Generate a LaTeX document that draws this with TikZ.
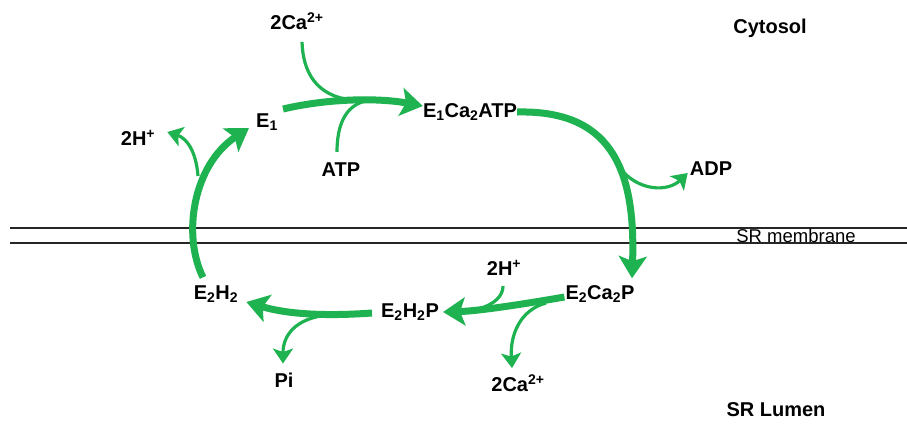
\documentclass[tikz,border=0pt]{standalone}
\usepackage{fontspec}
\setmainfont{Liberation Sans}
\usetikzlibrary{arrows.meta,calc}
\definecolor{pgreen}{RGB}{30,178,80}
\begin{document}
\begin{tikzpicture}[x=1pt,y=-1pt,
  lbl/.style={inner sep=0pt,font=\fontsize{20}{22}\selectfont\bfseries},
  big/.style={inner sep=0pt,font=\fontsize{20}{24}\selectfont\bfseries},
  mainarr/.style={draw=pgreen,line width=7pt,-{Stealth[length=22pt,width=28pt,inset=5pt]}},
  thinarr/.style={draw=pgreen,line width=3.2pt,-{Stealth[length=15pt,width=20pt,inset=3.5pt]}},
  thinline/.style={draw=pgreen,line width=3.2pt},
  memline/.style={draw=black!85,line width=2pt}]
\path[use as bounding box] (0,0) rectangle (907,424);
\fill[white] (0,0) rectangle (907,424);
% membrane
\coordinate (mL1) at (10,228); \coordinate (mR1) at (907,228);
\coordinate (mL2) at (10,243); \coordinate (mR2) at (907,243);
\draw[memline] (mL1) -- (mR1);
\draw[memline] (mL2) -- (mR2);
\node[inner sep=0pt,font=\fontsize{18.5}{20}\selectfont] (memb) at (796,236) {SR membrane};
\node[big] (cyt) at (770,28) {Cytosol};
\node[big] (lum) at (776,410) {SR Lumen};
% species
\node[lbl] (ca1) at (297,21) {2Ca\textsuperscript{2+}};
\node[lbl] (E1) at (267,122) {E\textsubscript{1}};
\node[lbl] (ECA) at (470,112) {E\textsubscript{1}Ca\textsubscript{2}ATP};
\node[lbl] (h1) at (138,138) {2H\textsuperscript{+}};
\node[lbl] (atp) at (341,170) {ATP};
\node[lbl] (adp) at (711,169) {ADP};
\node[lbl] (E2H2) at (216,294) {E\textsubscript{2}H\textsubscript{2}};
\node[lbl] (E2H2P) at (410,312) {E\textsubscript{2}H\textsubscript{2}P};
\node[lbl] (E2CaP) at (600,294) {E\textsubscript{2}Ca\textsubscript{2}P};
\node[lbl] (h2) at (504,268) {2H\textsuperscript{+}};
\node[lbl] (pi) at (284,380) {Pi};
\node[lbl] (ca2) at (518,383) {2Ca\textsuperscript{2+}};
% top reaction E1 -> E1Ca2ATP
\draw[thinline] ($(ca1.south)+(5,12)$) .. controls (303,72) and (316,96) .. (352,100);
\draw[thinline] ($(atp.north)+(-4,-11)$) .. controls (337,124) and (346,102) .. (372,100);
\draw[mainarr] ($(E1.east)+(5,-13)$) .. controls (330,98) and (380,98) .. ($(ECA.west)+(0,-6)$);
% right arc E1Ca2ATP -> E2Ca2P
\draw[mainarr] ($(ECA.east)+(0,0)$) .. controls (608,110) and (636,165) .. ($(E2CaP.north)+(32,-7)$);
\coordinate (adpstart) at (619,167);
\draw[thinarr] (adpstart) .. controls (638,192) and (668,192) .. ($(adp.west)+(-2,4)$);
% lower E2Ca2P -> E2H2P
\draw[thinline] ($(h2.south)+(-1,10)$) .. controls (503,295) and (496,304) .. (478,309);
\draw[mainarr] ($(E2CaP.west)+(-1,3)$) .. controls (530,303) and (480,311) .. ($(E2H2P.east)+(4,0)$);
\coordinate (ca2start) at (546,303);
\draw[thinarr] (ca2start) .. controls (520,310) and (510,335) .. ($(ca2.north)+(-6,-6)$);
% E2H2P -> E2H2
\draw[mainarr] ($(E2H2P.west)+(-9,1)$) .. controls (330,316) and (290,315) .. ($(E2H2.east)+(8,8)$);
\coordinate (pistart) at (328,315);
\draw[thinarr] (pistart) .. controls (296,318) and (283,335) .. ($(pi.north)+(-1,-9)$);
% left arc E2H2 -> E1
\draw[mainarr] ($(E2H2.north)+(-13,-8)$) .. controls (182,235) and (193,165) .. ($(E1.west)+(-7,6)$);
\coordinate (h1start) at (198,176);
\draw[thinarr] (h1start) .. controls (196,150) and (186,138) .. ($(h1.east)+(12,-6)$);
\end{tikzpicture}
\end{document}
